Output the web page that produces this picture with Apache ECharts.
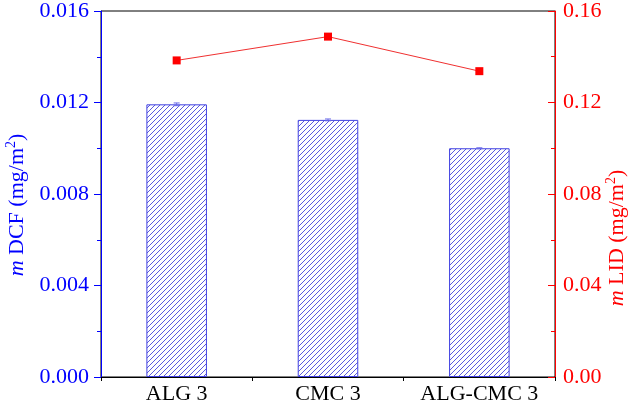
<!DOCTYPE html>
<html><head><meta charset="utf-8">
<script src="https://cdn.jsdelivr.net/npm/echarts@6/dist/echarts.min.js"></script>
<style>html,body{margin:0;padding:0;background:#fff}#c{width:630px;height:405px}</style>
</head><body><div id="c"></div>
<script>
const categories = ['ALG 3', 'CMC 3', 'ALG-CMC 3'];
const dcfValues = [0.01192, 0.01124, 0.01000];
const dcfErrors = [0.00006, 0.00004, 0.00002];
const lidValues = [0.1384, 0.1488, 0.1337];
const leftTicks = [0, 0.004, 0.008, 0.012, 0.016];
const rightTicks = [0, 0.04, 0.08, 0.12, 0.16];

const FONT = '"Liberation Serif", "Times New Roman", serif';
const BLUE = '#0000ff';
const RED = '#ff0000';

function hatch() {
  const s = 5;
  const c = document.createElement('canvas');
  c.width = s; c.height = s;
  const g = c.getContext('2d');
  g.fillStyle = '#fff'; g.fillRect(0, 0, s, s);
  g.strokeStyle = '#4646dc'; g.lineWidth = 0.9;
  for (let k = -1; k <= 1; k++) {
    g.beginPath(); g.moveTo(k * s, s); g.lineTo(k * s + s, 0); g.stroke();
  }
  return c;
}

const chart = echarts.init(document.getElementById('c'), null, {renderer: 'canvas'});
chart.setOption({
  animation: false,
  backgroundColor: '#fff',
  grid: {left: 101, right: 75, top: 11, bottom: 28, show: true, borderColor: '#000', borderWidth: 1, backgroundColor: 'transparent'},
  xAxis: {
    type: 'category', data: categories, boundaryGap: true,
    axisLine: {lineStyle: {color: '#000', width: 1}},
    axisTick: {show: true, length: 4, lineStyle: {color: '#000'}},
    axisLabel: {color: '#000', fontFamily: FONT, fontSize: 22, margin: 6, interval: 0, hideOverlap: false}
  },
  yAxis: [{
    type: 'value', min: leftTicks[0], max: leftTicks[leftTicks.length - 1], interval: 0.004,
    position: 'left',
    axisLine: {show: true, lineStyle: {color: BLUE, width: 1}},
    axisTick: {show: true, length: 7, lineStyle: {color: BLUE}},
    minorTick: {show: true, splitNumber: 2, length: 4, lineStyle: {color: BLUE}},
    splitLine: {show: false},
    axisLabel: {color: BLUE, fontFamily: FONT, fontSize: 22, margin: 12, formatter: v => v.toFixed(3)}
  }, {
    type: 'value', min: rightTicks[0], max: rightTicks[rightTicks.length - 1], interval: 0.04,
    position: 'right',
    axisLine: {show: true, lineStyle: {color: RED, width: 1}},
    axisTick: {show: true, inside: true, length: 7, lineStyle: {color: RED}},
    minorTick: {show: true, splitNumber: 2, length: 4, lineStyle: {color: RED}},
    splitLine: {show: false},
    axisLabel: {color: RED, fontFamily: FONT, fontSize: 22, margin: 8, formatter: v => v.toFixed(2)}
  }],
  series: [{
    type: 'bar', data: dcfValues, yAxisIndex: 0, barWidth: '40%',
    itemStyle: {color: {image: hatch(), repeat: 'repeat'}, borderColor: '#4040e0', borderWidth: 1},
    z: 2
  }, {
    type: 'custom', yAxisIndex: 0, z: 3,
    data: dcfValues.map((v, i) => [i, v - dcfErrors[i], v + dcfErrors[i]]),
    renderItem: function (params, api) {
      const lo = api.coord([api.value(0), api.value(1)]);
      const hi = api.coord([api.value(0), api.value(2)]);
      const w = 3;
      return {type: 'group', children: [
        {type: 'line', shape: {x1: lo[0], y1: lo[1], x2: hi[0], y2: hi[1]}, style: {stroke: '#6a6ae8', lineWidth: 1}},
        {type: 'line', shape: {x1: lo[0] - w, y1: lo[1], x2: lo[0] + w, y2: lo[1]}, style: {stroke: '#6a6ae8', lineWidth: 1}},
        {type: 'line', shape: {x1: hi[0] - w, y1: hi[1], x2: hi[0] + w, y2: hi[1]}, style: {stroke: '#6a6ae8', lineWidth: 1}}
      ]};
    }
  }, {
    type: 'line', data: lidValues, yAxisIndex: 1,
    symbol: 'rect', symbolSize: 8,
    lineStyle: {color: '#f03030', width: 1},
    itemStyle: {color: RED},
    z: 4
  }],
  graphic: [{
    type: 'text', x: 17, y: 205, rotation: Math.PI / 2,
    style: {
      text: '{i|m} DCF (mg/m{s|2})',
      font: '22px ' + FONT, fill: BLUE, align: 'center', verticalAlign: 'middle',
      rich: {
        i: {fontStyle: 'italic', fontFamily: FONT, fontSize: 22, fill: BLUE},
        s: {fontFamily: FONT, fontSize: 14, fill: BLUE, padding: [0, 0, 12, 0]}
      }
    }
  }, {
    type: 'text', x: 617, y: 238, rotation: Math.PI / 2,
    style: {
      text: '{i|m} LID (mg/m{s|2})',
      font: '22px ' + FONT, fill: RED, align: 'center', verticalAlign: 'middle',
      rich: {
        i: {fontStyle: 'italic', fontFamily: FONT, fontSize: 22, fill: RED},
        s: {fontFamily: FONT, fontSize: 14, fill: RED, padding: [0, 0, 12, 0]}
      }
    }
  }]
});
</script></body></html>
